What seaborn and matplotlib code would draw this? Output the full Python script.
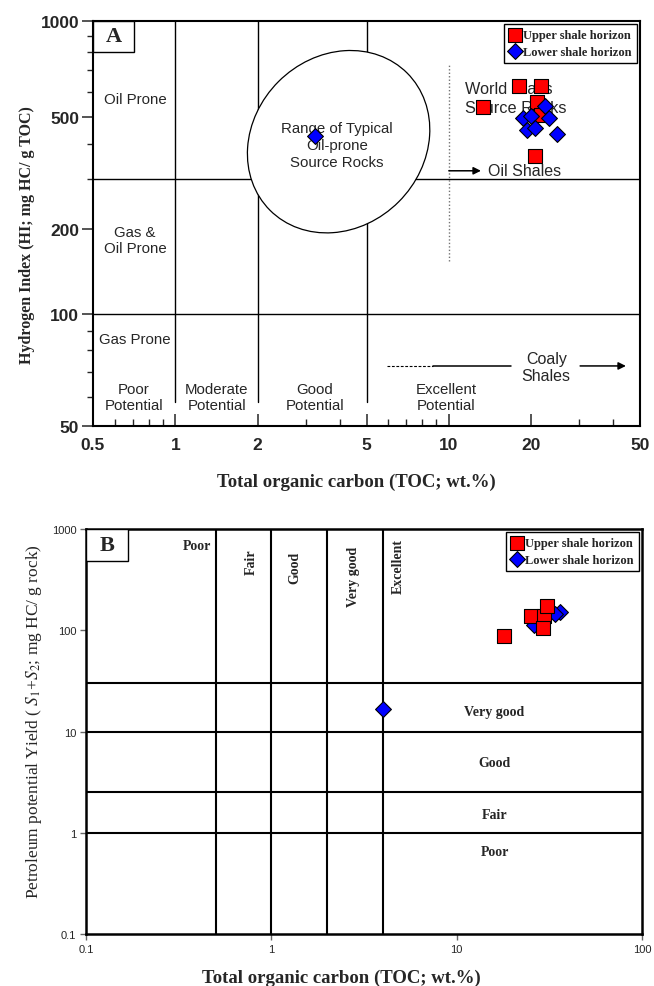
"""
Source-rock screening plots: HI vs TOC (A) and S1+S2 vs TOC (B)
for the upper and lower shale horizons.
"""

import numpy as np
import pandas as pd
import matplotlib.pyplot as plt
import seaborn as sns
from matplotlib.patches import Ellipse, Rectangle
from matplotlib.transforms import ScaledTranslation
from matplotlib.ticker import FixedLocator, LogLocator, FuncFormatter, NullLocator

sns.set_style("ticks")
plt.rcParams["font.family"] = ["Liberation Sans", "DejaVu Sans"]
plt.rcParams["mathtext.fontset"] = "stix"

# ---------------------------------------------------------------
# data
# ---------------------------------------------------------------
upper_toc_a = [18.0, 21.7, 13.3, 21.0, 21.8, 20.7]
upper_hi_a = [624, 627, 536, 556, 507, 362]
lower_toc_a = [22.5, 18.6, 19.9, 23.2, 19.3, 20.7, 24.8, 3.24]
lower_hi_a = [541, 495, 502, 497, 451, 456, 435, 429]

upper_toc_b = [18.0, 25.1, 29.6, 30.6, 29.1]
upper_s1s2_b = [88, 137, 139, 172, 105]
lower_toc_b = [36.1, 34.0, 26.2, 4.0]
lower_s1s2_b = [150, 145, 113, 16.7]

toc_ticks_a = [0.5, 1, 2, 5, 10, 20, 50]
hi_ticks_a = [50, 100, 200, 500, 1000]
toc_ticks_b = [0.1, 1, 10, 100]
yield_ticks_b = [0.1, 1, 10, 100, 1000]

# class boundaries
toc_bounds_a = [1, 2, 5]
hi_bounds_a = [100, 300]
toc_bounds_b = [0.5, 1, 2, 4]
yield_bounds_b = [1, 2.5, 10, 30]

UPPER = "Upper shale horizon"
LOWER = "Lower shale horizon"
RED, BLUE = "#ff0000", "#0000ff"

up_a = pd.DataFrame({"toc": upper_toc_a, "val": upper_hi_a})
lo_a = pd.DataFrame({"toc": lower_toc_a, "val": lower_hi_a})
up_b = pd.DataFrame({"toc": upper_toc_b, "val": upper_s1s2_b})
lo_b = pd.DataFrame({"toc": lower_toc_b, "val": lower_s1s2_b})

SERIF = "Liberation Serif"
SANS = "Liberation Sans"


# the HI axis of the original template is not evenly logarithmic,
# so map it piecewise through the labelled decades
def _pwl(v, xs, ys):
    v = np.asarray(v, dtype=float)
    out = np.interp(v, xs, ys)
    lo_slope = (ys[1] - ys[0]) / (xs[1] - xs[0])
    hi_slope = (ys[-1] - ys[-2]) / (xs[-1] - xs[-2])
    out = np.where(v < xs[0], ys[0] + (v - xs[0]) * lo_slope, out)
    out = np.where(v > xs[-1], ys[-1] + (v - xs[-1]) * hi_slope, out)
    return out


HI_LOG = np.log10(hi_ticks_a)
HI_POS = np.array([0, 112, 197, 309, 405.0])


def hi_fwd(v):
    lv = np.log10(np.clip(np.asarray(v, dtype=float), 1e-6, None))
    return _pwl(lv, HI_LOG, HI_POS)


def hi_inv(p):
    return 10 ** _pwl(p, HI_POS, HI_LOG)


fmt = FuncFormatter(lambda v, _: f"{v:g}")

fig = plt.figure(figsize=(6.54, 9.87), dpi=100)
axA = fig.add_axes([0.1422, 0.5674, 0.8364, 0.4103])
axB = fig.add_axes([0.1315, 0.0527, 0.8502, 0.4103])

# ---------------------------------------------------------------
# A: HI vs TOC
# ---------------------------------------------------------------
ax = axA
ax.set_xscale("log")
ax.set_yscale("function", functions=(hi_fwd, hi_inv))
ax.set_xlim(0.5, 50)
ax.set_ylim(50, 1000)

for x in toc_bounds_a:
    ax.plot([x, x], [58, 1000], color="black", lw=1.0, zorder=1)
for y in hi_bounds_a:
    ax.plot([0.5, 50], [y, y], color="black", lw=1.0, zorder=1)
ax.plot([10, 10], [154, 733], color="0.45", lw=1.0, ls=(0, (1, 1.5)), zorder=1)

ell = Ellipse((0, 0), width=1.94, height=1.70, angle=45, facecolor="white",
              edgecolor="black", lw=0.9, zorder=2,
              transform=fig.dpi_scale_trans + ScaledTranslation(0.449, 0.702, ax.transAxes))
ax.add_patch(ell)

lab = dict(fontsize=10.8, family=SANS, ha="center", va="center", zorder=3, linespacing=1.2)
ax.text(0.712, 570, "Oil Prone", **lab)
ax.text(0.712, 183, "Gas &\nOil Prone", **lab)
ax.text(0.712, 85.7, "Gas Prone", **lab)
ax.text(0.706, 59.8, "Poor\nPotential", **lab)
ax.text(1.42, 59.8, "Moderate\nPotential", **lab)
ax.text(3.24, 59.8, "Good\nPotential", **lab)
ax.text(9.76, 59.8, "Excellent\nPotential", **lab)
ax.text(3.9, 397, "Range of Typical\nOil-prone\nSource Rocks",
        **{**lab, "linespacing": 1.28})
ax.text(11.5, 574, "World Class\nSource Rocks", fontsize=11.7, family=SANS,
        ha="left", va="center", linespacing=1.3, zorder=3)
ax.annotate("", xy=(13.1, 322), xytext=(10, 322), zorder=3,
            arrowprops=dict(arrowstyle="-|>", color="black", lw=1.1,
                            shrinkA=0, shrinkB=0, mutation_scale=11))
ax.text(13.95, 322, "Oil Shales", fontsize=11.5, family=SANS,
        ha="left", va="center", zorder=3)

ax.plot([5.95, 8.75], [72.5, 72.5], color="black", lw=0.8, ls=(0, (2.5, 1.5)), zorder=1)
ax.plot([8.75, 16.9], [72.5, 72.5], color="black", lw=1.1, zorder=1)
ax.annotate("", xy=(44.4, 72.5), xytext=(30.2, 72.5), zorder=3,
            arrowprops=dict(arrowstyle="-|>", color="black", lw=1.1,
                            shrinkA=0, shrinkB=0, mutation_scale=11))
ax.text(22.7, 72, "Coaly\nShales", fontsize=11.5, family=SANS,
        ha="center", va="center", linespacing=1.2, zorder=3)

sns.scatterplot(data=up_a, x="toc", y="val", marker="s", s=95, color=RED,
                edgecolor="black", linewidth=0.8, label=UPPER, ax=ax, zorder=4)
sns.scatterplot(data=lo_a, x="toc", y="val", marker="D", s=65, color=BLUE,
                edgecolor="black", linewidth=0.8, label=LOWER, ax=ax, zorder=5)

ax.xaxis.set_major_locator(FixedLocator(toc_ticks_a))
ax.xaxis.set_minor_locator(LogLocator(base=10, subs=np.arange(2, 10)))
ax.xaxis.set_major_formatter(fmt)
ax.xaxis.set_minor_formatter(FuncFormatter(lambda v, _: ""))
ax.yaxis.set_major_locator(FixedLocator(hi_ticks_a))
ax.yaxis.set_minor_locator(LogLocator(base=10, subs=np.arange(2, 10)))
ax.yaxis.set_major_formatter(fmt)
ax.yaxis.set_minor_formatter(FuncFormatter(lambda v, _: ""))
ax.tick_params(axis="x", which="major", direction="in", length=9, width=1.1,
               labelsize=12.5, pad=8)
ax.tick_params(axis="x", which="minor", direction="in", length=5, width=1.0)
ax.tick_params(axis="y", which="major", direction="out", length=8, width=1.1,
               labelsize=12.5, pad=2)
ax.tick_params(axis="y", which="minor", direction="out", length=4, width=1.0)
for t in ax.get_xticklabels() + ax.get_yticklabels():
    t.set_fontweight("bold")
    t.set_family(SANS)

ax.set_xlabel("Total organic carbon (TOC; wt.%)", family=SERIF, fontweight="bold",
              fontsize=13.5)
ax.set_ylabel("Hydrogen Index (HI; mg HC/ g TOC)", family=SERIF, fontweight="bold",
              fontsize=11.5)
ax.xaxis.set_label_coords(0.481, -0.115)
ax.yaxis.set_label_coords(-0.106, 0.474)

ax.add_patch(Rectangle((0, 1 - 0.0765), 0.075, 0.0765, transform=ax.transAxes,
                       facecolor="white", edgecolor="black", lw=1.0, zorder=6))
ax.text(0.0375, 1 - 0.038, "A", transform=ax.transAxes, family=SERIF,
        fontweight="bold", fontsize=16, ha="center", va="center", zorder=7)

# ---------------------------------------------------------------
# B: S1+S2 vs TOC
# ---------------------------------------------------------------
ax = axB
ax.set_xscale("log")
ax.set_yscale("log")
ax.set_xlim(0.1, 100)
ax.set_ylim(0.1, 1000)

for x in toc_bounds_b:
    ax.axvline(x, color="black", lw=1.5, zorder=1)
for y in yield_bounds_b:
    ax.axhline(y, color="black", lw=1.5, zorder=1)

blab = dict(family=SERIF, fontweight="bold", fontsize=10, ha="center", va="center", zorder=3)
ax.text(0.397, 680, "Poor", **blab)
ax.text(0.78, 486, "Fair", rotation=90, **blab)
ax.text(1.34, 419, "Good", rotation=90, **blab)
ax.text(2.79, 346, "Very good", rotation=90, **blab)
ax.text(4.85, 434, "Excellent", rotation=90, **blab)
ax.text(16, 15.8, "Very good", **blab)
ax.text(16, 4.97, "Good", **blab)
ax.text(16, 1.53, "Fair", **blab)
ax.text(16, 0.65, "Poor", **blab)

sns.scatterplot(data=lo_b, x="toc", y="val", marker="D", s=65, color=BLUE,
                edgecolor="black", linewidth=0.8, label=LOWER, ax=ax, zorder=4)
sns.scatterplot(data=up_b, x="toc", y="val", marker="s", s=95, color=RED,
                edgecolor="black", linewidth=0.8, label=UPPER, ax=ax, zorder=5)

ax.xaxis.set_major_locator(FixedLocator(toc_ticks_b))
ax.xaxis.set_minor_locator(NullLocator())
ax.xaxis.set_major_formatter(fmt)
ax.yaxis.set_major_locator(FixedLocator(yield_ticks_b))
ax.yaxis.set_minor_locator(NullLocator())
ax.yaxis.set_major_formatter(fmt)
ax.tick_params(axis="both", which="major", direction="out", length=4, width=1.0,
               labelsize=8, pad=3, color="0.4")
ax.set_xlabel("Total organic carbon (TOC; wt.%)", family=SERIF, fontweight="bold",
              fontsize=13.5)
ax.set_ylabel("Petroleum potential Yield ( $S_1$+$S_2$; mg HC/ g rock)", family=SERIF,
              fontsize=12.5)
ax.xaxis.set_label_coords(0.459, -0.085)
ax.yaxis.set_label_coords(-0.075, 0.526)

ax.add_patch(Rectangle((0, 1 - 0.079), 0.0755, 0.079, transform=ax.transAxes,
                       facecolor="white", edgecolor="black", lw=1.0, zorder=6))
ax.text(0.0378, 1 - 0.04, "B", transform=ax.transAxes, family=SERIF,
        fontweight="bold", fontsize=16, ha="center", va="center", zorder=7)

# ---------------------------------------------------------------
# shared styling: spines and legends
# ---------------------------------------------------------------
for ax, lw in ((axA, 1.5), (axB, 1.8)):
    for sp in ax.spines.values():
        sp.set_visible(True)
        sp.set_color("black")
        sp.set_linewidth(lw)
    handles, labels = ax.get_legend_handles_labels()
    order = [labels.index(UPPER), labels.index(LOWER)]
    leg = ax.legend([handles[i] for i in order], [labels[i] for i in order],
                    loc="upper right", frameon=True, fancybox=False, framealpha=1,
                    edgecolor="black", borderaxespad=0.25, borderpad=0.4,
                    handletextpad=0.15, labelspacing=0.35, handlelength=1.0,
                    prop=dict(family=SERIF, weight="bold", size=9))
    leg.get_frame().set_linewidth(1.0)
    leg.set_zorder(8)

fig.savefig("out.png", dpi=100)
